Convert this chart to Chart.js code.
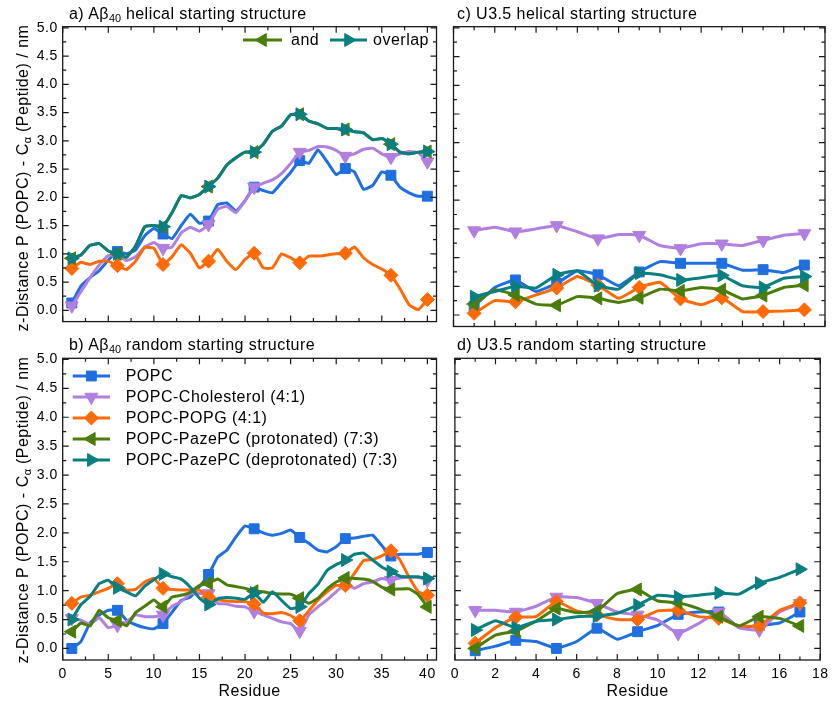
<!DOCTYPE html>
<html>
<head>
<meta charset="utf-8">
<script src="https://cdn.jsdelivr.net/npm/chart.js@4/dist/chart.umd.min.js"></script>
<style>
  html, body { margin:0; padding:0; background:#fff; }
  #wrap { position:relative; width:834px; height:702px; overflow:hidden; font-family:"Liberation Sans", Arial, sans-serif; color:#000; }
  canvas { position:absolute; }
  .ttl { position:absolute; font-size:16px; line-height:20px; letter-spacing:0.45px; white-space:nowrap; }
  .ytl { position:absolute; width:340px; height:20px; font-size:16px; line-height:20px; letter-spacing:0.5px; text-align:center; white-space:nowrap; transform:rotate(-90deg); }
  sub { font-size:0.68em; vertical-align:-0.3em; line-height:0; letter-spacing:0; }
</style>
</head>
<body>
<div id="wrap">
  <canvas id="cA" width="445" height="335" style="left:0px;top:0px;"></canvas>
  <canvas id="cB" width="445" height="362" style="left:0px;top:340px;"></canvas>
  <canvas id="cC" width="389" height="335" style="left:445px;top:0px;"></canvas>
  <canvas id="cD" width="389" height="362" style="left:445px;top:340px;"></canvas>
  <div class="ttl" style="left:69px;top:4px;">a) Aβ<sub>40</sub> helical starting structure</div>
  <div class="ttl" style="left:69px;top:335px;">b) Aβ<sub>40</sub> random starting structure</div>
  <div class="ttl" style="left:457px;top:4px;">c) U3.5 helical starting structure</div>
  <div class="ttl" style="left:457px;top:335px;">d) U3.5 random starting structure</div>
  <div class="ytl" style="left:-147px;top:168px;">z-Distance P (POPC) - C<sub>α</sub> (Peptide) / nm</div>
  <div class="ytl" style="left:-147px;top:500px;">z-Distance P (POPC) - C<sub>α</sub> (Peptide) / nm</div>
</div>
<script>
// ---------- categories / ticks ----------
const residuesAbeta = [1,2,3,4,5,6,7,8,9,10,11,12,13,14,15,16,17,18,19,20,21,22,23,24,25,26,27,28,29,30,31,32,33,34,35,36,37,38,39,40];
const residuesU35 = [1,2,3,4,5,6,7,8,9,10,11,12,13,14,15,16,17];
const markersAbeta = [1,6,11,16,21,26,31,36,40];
const markersU35 = [1,3,5,7,9,11,13,15,17];
const xTicksAbeta = [0,5,10,15,20,25,30,35,40];
const xTicksU35 = [0,2,4,6,8,10,12,14,16,18];
const yTicks = [0,0.5,1,1.5,2,2.5,3,3.5,4,4.5,5];

const seriesNames = ['POPC','POPC-Cholesterol (4:1)','POPC-POPG (4:1)','POPC-PazePC (protonated) (7:3)','POPC-PazePC (deprotonated) (7:3)'];

// ---------- a) Abeta40 helical ----------
const popcA  = [0.13,0.43,0.58,0.70,0.89,1.04,1.00,1.07,1.32,1.45,1.35,1.27,1.50,1.70,1.54,1.58,1.87,1.90,1.76,1.94,2.18,2.12,2.08,2.26,2.44,2.65,2.60,2.84,2.63,2.40,2.51,2.45,2.14,2.21,2.45,2.39,2.18,2.08,2.02,2.02];
const cholA  = [0.08,0.33,0.58,0.80,0.97,0.97,0.88,0.95,1.12,1.20,1.10,1.12,1.37,1.47,1.40,1.52,1.79,1.84,1.73,1.94,2.18,2.25,2.31,2.42,2.60,2.80,2.83,2.90,2.89,2.83,2.73,2.77,2.85,2.87,2.77,2.71,2.77,2.81,2.79,2.63];
const popgA  = [0.74,0.85,0.81,0.87,0.87,0.79,0.72,0.87,1.11,1.10,0.81,0.95,1.16,1.01,0.75,0.87,1.08,0.87,0.72,0.90,1.01,0.75,0.75,1.00,0.93,0.84,0.96,0.96,0.98,1.00,1.01,1.12,0.93,0.81,0.73,0.62,0.38,0.10,0.01,0.19];
const protA  = [0.92,0.98,1.15,1.18,1.05,1.00,0.94,1.14,1.48,1.50,1.48,1.73,2.03,1.99,2.05,2.19,2.34,2.57,2.70,2.80,2.80,2.94,3.17,3.26,3.46,3.47,3.35,3.30,3.22,3.22,3.20,3.16,3.14,3.02,3.04,2.94,2.80,2.77,2.80,2.81];
const deprA  = [0.92,0.98,1.15,1.18,1.05,1.00,0.94,1.14,1.48,1.50,1.48,1.73,2.03,1.99,2.05,2.19,2.34,2.57,2.70,2.80,2.80,2.94,3.17,3.26,3.46,3.47,3.35,3.30,3.22,3.22,3.20,3.16,3.14,3.02,3.04,2.94,2.80,2.77,2.80,2.81];

// ---------- b) Abeta40 random ----------
const popcB  = [0.00,0.12,0.44,0.58,0.66,0.66,0.49,0.41,0.36,0.34,0.43,0.63,0.83,0.89,1.07,1.28,1.58,1.70,1.93,2.12,2.07,2.00,1.96,1.99,2.05,1.92,1.82,1.70,1.67,1.76,1.90,1.91,1.94,1.96,1.78,1.60,1.63,1.63,1.63,1.66];
const cholB  = [0.52,0.49,0.42,0.53,0.36,0.40,0.46,0.58,0.55,0.55,0.58,0.73,0.81,0.95,0.95,0.95,0.78,0.77,0.73,0.72,0.64,0.58,0.52,0.46,0.43,0.30,0.58,0.72,0.84,0.98,1.12,1.04,1.12,1.15,1.21,1.18,1.22,1.23,1.23,1.18];
const popgB  = [0.78,0.89,0.92,0.98,1.04,1.12,1.01,1.02,1.15,1.21,1.04,1.02,1.01,1.01,1.01,0.89,0.84,0.82,0.81,0.81,0.77,0.61,0.60,0.62,0.57,0.48,0.65,0.84,0.98,1.09,1.09,1.30,1.52,1.54,1.60,1.69,1.53,1.23,0.98,0.92];
const protB  = [0.29,0.44,0.39,0.66,0.53,0.48,0.39,0.62,0.73,0.84,0.72,0.89,0.92,0.97,1.09,1.13,1.20,1.10,1.07,1.04,0.99,0.98,0.95,0.94,0.94,0.87,0.78,0.87,1.03,1.15,1.22,1.21,1.20,1.16,1.06,1.02,1.03,1.03,0.93,0.72];
const deprB  = [0.50,0.76,0.90,1.12,1.18,1.05,0.98,0.91,1.08,1.19,1.29,1.24,1.20,1.06,0.87,0.76,0.86,0.88,0.87,0.85,0.96,0.80,0.98,0.83,0.69,0.72,0.95,1.11,1.35,1.45,1.53,1.63,1.65,1.53,1.41,1.33,1.25,1.24,1.24,1.21];

// ---------- c) U3.5 helical ----------
const popcC  = [0.15,0.48,0.61,0.41,0.55,0.77,0.70,0.51,0.75,0.93,0.90,0.90,0.90,0.78,0.79,0.74,0.87];
const cholC  = [1.47,1.53,1.45,1.50,1.56,1.45,1.33,1.40,1.39,1.21,1.16,1.24,1.24,1.21,1.30,1.39,1.42];
const popgC  = [0.03,0.25,0.23,0.35,0.47,0.67,0.52,0.29,0.48,0.57,0.28,0.18,0.30,0.06,0.06,0.07,0.09];
const protC  = [0.19,0.44,0.35,0.19,0.17,0.32,0.29,0.22,0.30,0.45,0.42,0.48,0.44,0.28,0.34,0.48,0.52];
const deprC  = [0.32,0.41,0.50,0.47,0.70,0.77,0.51,0.45,0.73,0.70,0.61,0.65,0.69,0.51,0.48,0.64,0.67];

// ---------- d) U3.5 random ----------
const popcD  = [-0.04,0.04,0.14,0.12,0.00,0.12,0.35,0.16,0.29,0.40,0.59,0.63,0.63,0.36,0.40,0.44,0.63];
const cholD  = [0.66,0.66,0.63,0.73,0.89,0.88,0.78,0.63,0.58,0.49,0.26,0.43,0.63,0.36,0.32,0.63,0.78];
const popgD  = [0.09,0.36,0.54,0.55,0.81,0.65,0.58,0.50,0.50,0.65,0.66,0.55,0.52,0.39,0.39,0.66,0.79];
const protD  = [0.00,0.23,0.30,0.47,0.69,0.62,0.65,0.95,1.02,0.82,0.79,0.69,0.55,0.39,0.55,0.52,0.39];
const deprD  = [0.32,0.48,0.36,0.47,0.50,0.55,0.56,0.61,0.75,0.92,0.89,0.92,0.96,0.94,1.13,1.23,1.37];

// ---------- styles ----------
const FONT = '"Liberation Sans", Arial, sans-serif';
const styles = [
  {color:'#1f6fe0', pointStyle:'rect',     rotation:0,   radius:7},
  {color:'#b07fe0', pointStyle:'triangle', rotation:180, radius:7.5},
  {color:'#ff6a08', pointStyle:'rectRot',  rotation:0,   radius:7},
  {color:'#4b7d0b', pointStyle:'triangle', rotation:270, radius:7.5},
  {color:'#0b7f80', pointStyle:'triangle', rotation:90,  radius:7.5}
];

Chart.defaults.font.family = FONT;
Chart.defaults.color = '#000';

function makeDatasets(residues, markers, seriesList) {
  return seriesList.map((vals, i) => {
    const st = styles[i];
    return {
      label: seriesNames[i],
      data: residues.map((r, k) => ({x: r, y: vals[k]})),
      borderColor: st.color,
      backgroundColor: st.color,
      borderWidth: 3,
      tension: 0.12,
      borderJoinStyle: 'round',
      borderCapStyle: 'round',
      pointStyle: st.pointStyle,
      pointRotation: st.rotation,
      pointRadius: residues.map(r => markers.includes(r) ? st.radius : 0),
      pointBorderWidth: 1,
      pointBorderColor: st.color,
      pointBackgroundColor: st.color,
      pointHoverRadius: 0,
      order: 5 - i,
      _legendRadius: st.radius
    };
  });
}

// frame with inward major/minor ticks on all four sides
const framePlugin = {
  id: 'frame',
  afterDraw(chart, args, opts) {
    const ctx = chart.ctx;
    const {left, right, top, bottom} = chart.chartArea;
    const xs = chart.scales.x, ys = chart.scales.y;
    const majL = 6, minL = 3.5;
    ctx.save();
    ctx.strokeStyle = '#1a1a1a';
    ctx.lineWidth = 1.3;
    ctx.strokeRect(left, top, right - left, bottom - top);
    ctx.lineWidth = 1.2;
    const mids = arr => arr.slice(0, -1).map((v, i) => (v + arr[i + 1]) / 2);
    const xMaj = opts.xTicks, xMin = mids(opts.xTicks);
    const yMaj = opts.yTicks, yMin = mids(opts.yTicks);
    ctx.beginPath();
    const vx = (list, L) => list.forEach(v => {
      const p = xs.getPixelForValue(v);
      if (p < left - 0.5 || p > right + 0.5) return;
      ctx.moveTo(p, bottom); ctx.lineTo(p, bottom - L);
      ctx.moveTo(p, top); ctx.lineTo(p, top + L);
    });
    const vy = (list, L) => list.forEach(v => {
      const p = ys.getPixelForValue(v);
      if (p < top - 0.5 || p > bottom + 0.5) return;
      ctx.moveTo(left, p); ctx.lineTo(left + L, p);
      ctx.moveTo(right, p); ctx.lineTo(right - L, p);
    });
    vx(xMaj, majL); vx(xMin, minL); vy(yMaj, majL); vy(yMin, minL);
    ctx.stroke();
    ctx.restore();
  }
};

// legend drawn inside the plot area: line + marker + text
const inLegendPlugin = {
  id: 'inLegend',
  afterDraw(chart, args, opts) {
    if (!opts.items) return;
    const ctx = chart.ctx;
    ctx.save();
    try { ctx.letterSpacing = '0.5px'; } catch (e) {}
    ctx.font = '16px ' + FONT;
    ctx.textBaseline = 'middle';
    ctx.textAlign = 'left';
    opts.items.forEach(it => {
      const ds = chart.data.datasets[it.ds];
      ctx.strokeStyle = ds.borderColor;
      ctx.fillStyle = ds.borderColor;
      ctx.lineWidth = 3;
      ctx.beginPath(); ctx.moveTo(it.x0, it.y); ctx.lineTo(it.x1, it.y); ctx.stroke();
      ctx.lineWidth = 1;
      Chart.helpers.drawPoint(ctx, {pointStyle: ds.pointStyle, rotation: ds.pointRotation, radius: ds._legendRadius, borderWidth: 1}, (it.x0 + it.x1) / 2, it.y);
      ctx.fillStyle = '#000';
      ctx.fillText(it.text !== undefined ? it.text : ds.label, it.tx, it.y + 1);
    });
    ctx.restore();
  }
};

const spacingPlugin = {
  id: 'spacing',
  beforeDraw(chart) { try { chart.ctx.letterSpacing = '0.5px'; } catch (e) {} }
};

function setTicks(arr) {
  return function(scale) { scale.ticks = arr.map(v => ({value: v})); };
}

function makeChart(id, cfg) {
  const xScale = {
    type: 'linear', min: 0, max: cfg.xMax,
    display: cfg.showX,
    grid: {display: false, drawTicks: false},
    border: {display: false},
    afterBuildTicks: setTicks(cfg.xTicks),
    ticks: {font: {size: 14}, padding: 6, maxRotation: 0, autoSkip: false, includeBounds: false, callback: v => String(v)},
    title: {display: cfg.showX, text: 'Residue', font: {size: 16}, padding: {top: 0, bottom: 1}}
  };
  if (cfg.showX) xScale.afterFit = s => { s.height = 42; };
  const yScale = {
    type: 'linear', min: -0.2, max: 5.02,
    display: cfg.showY,
    grid: {display: false, drawTicks: false},
    border: {display: false},
    afterBuildTicks: setTicks(yTicks),
    ticks: {font: {size: 14}, padding: 5, includeBounds: false, callback: v => Number(v).toFixed(1)}
  };
  if (cfg.showY) yScale.afterFit = s => { s.width = 62.7; };
  return new Chart(document.getElementById(id), {
    type: 'line',
    data: {datasets: makeDatasets(cfg.residues, cfg.markers, cfg.series)},
    options: {
      responsive: false,
      animation: false,
      events: [],
      devicePixelRatio: 1,
      layout: {padding: cfg.padding},
      scales: {x: xScale, y: yScale},
      plugins: {
        legend: {display: false},
        tooltip: {enabled: false},
        frame: {xTicks: cfg.xTicks, yTicks: yTicks},
        inLegend: {items: cfg.legend}
      }
    },
    plugins: [spacingPlugin, framePlugin, inLegendPlugin]
  });
}

makeChart('cA', {
  residues: residuesAbeta, markers: markersAbeta, xTicks: xTicksAbeta, xMax: 41,
  series: [popcA, cholA, popgA, protA, deprA],
  showX: false, showY: true,
  padding: {left: 0, top: 26.7, right: 8, bottom: 6},
  legend: [
    {ds: 3, x0: 243, x1: 282, y: 40, tx: 291, text: 'and'},
    {ds: 4, x0: 330, x1: 367, y: 40, tx: 373, text: 'overlap'}
  ]
});
makeChart('cB', {
  residues: residuesAbeta, markers: markersAbeta, xTicks: xTicksAbeta, xMax: 41,
  series: [popcB, cholB, popgB, protB, deprB],
  showX: true, showY: true,
  padding: {left: 0, top: 18.3, right: 8, bottom: 0},
  legend: [
    {ds: 0, x0: 72.7, x1: 110, y: 36,  tx: 125.7},
    {ds: 1, x0: 72.7, x1: 110, y: 57,  tx: 125.7},
    {ds: 2, x0: 72.7, x1: 110, y: 78,  tx: 125.7},
    {ds: 3, x0: 72.7, x1: 110, y: 99,  tx: 125.7},
    {ds: 4, x0: 72.7, x1: 110, y: 120, tx: 125.7}
  ]
});
makeChart('cC', {
  residues: residuesU35, markers: markersU35, xTicks: xTicksU35, xMax: 18,
  series: [popcC, cholC, popgC, protC, deprC],
  showX: false, showY: false,
  padding: {left: 5.7, top: 26.7, right: 9, bottom: 6}
});
makeChart('cD', {
  residues: residuesU35, markers: markersU35, xTicks: xTicksU35, xMax: 18,
  series: [popcD, cholD, popgD, protD, deprD],
  showX: true, showY: false,
  padding: {left: 5.7, top: 18.3, right: 9, bottom: 0}
});
</script>
</body>
</html>
